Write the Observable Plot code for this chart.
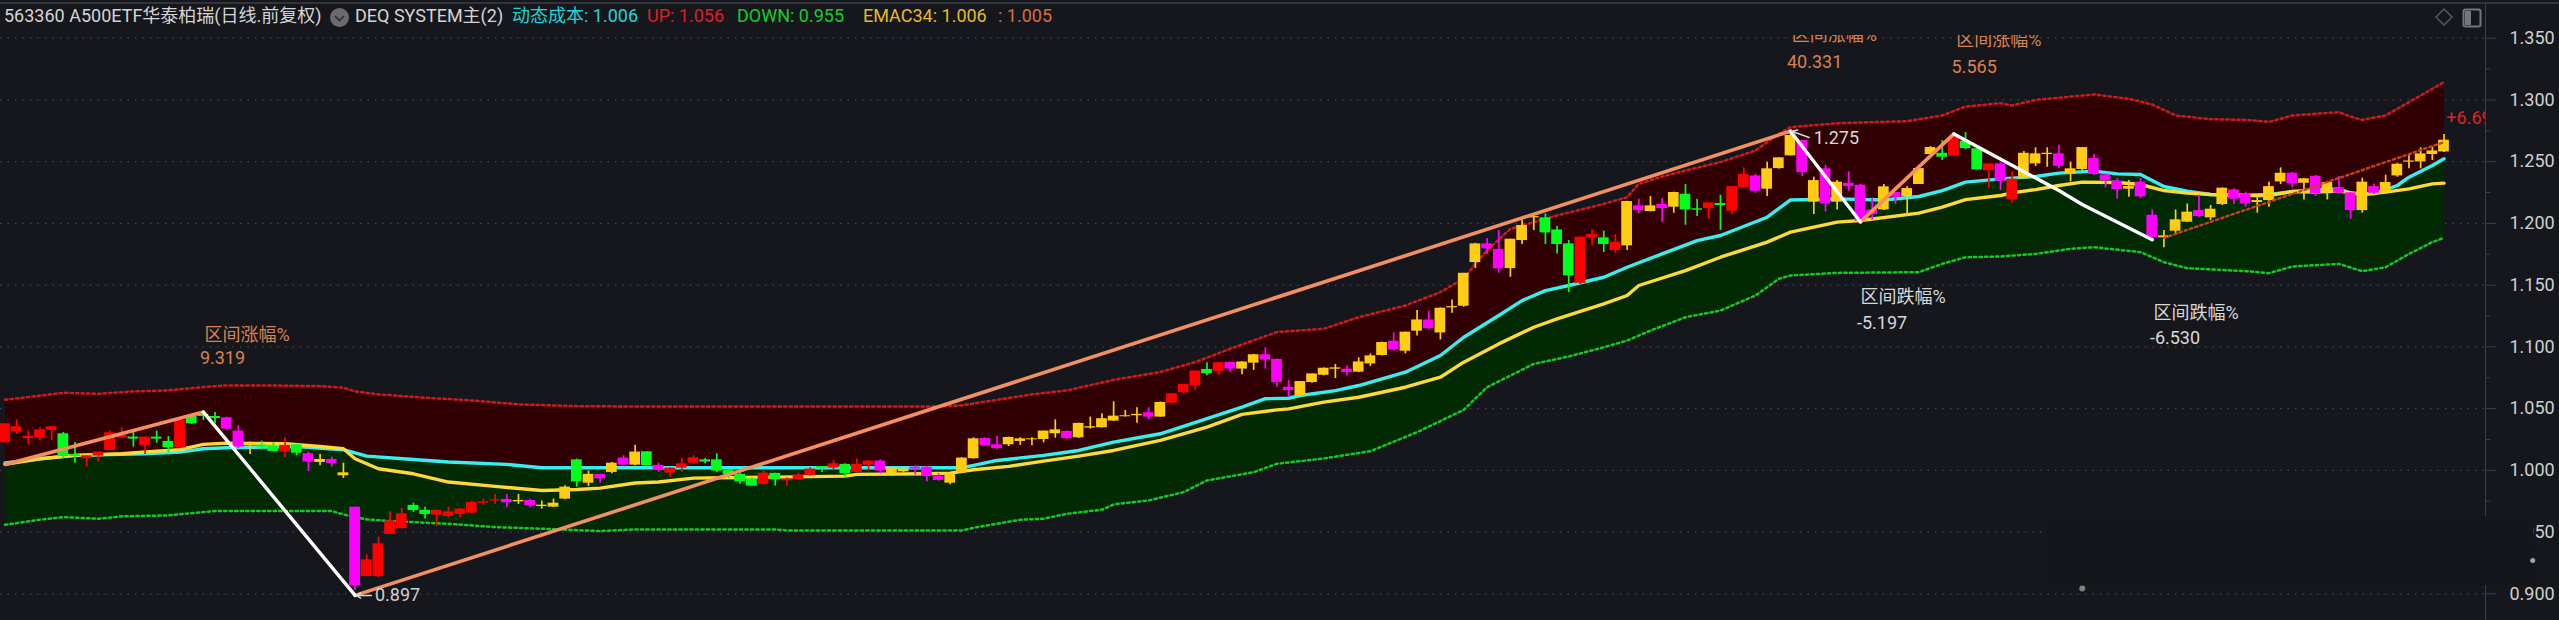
<!DOCTYPE html>
<html lang="zh"><head><meta charset="utf-8">
<script src="https://cdn.jsdelivr.net/npm/d3@7"></script>
<script src="https://cdn.jsdelivr.net/npm/@observablehq/plot@0.6"></script>
<style>
html,body{margin:0;padding:0;background:#16171d;width:2559px;height:620px;overflow:hidden}
#hdr{position:absolute;left:0;top:0;z-index:2;height:0;width:2559px;font:18px/1 Roboto,"Noto Sans CJK SC",sans-serif;white-space:nowrap}
#hdr .line{position:absolute;left:0;right:0;top:2px;height:2px;background:#32343b}
#hdr .axis{position:absolute;left:2485px;top:3px;height:33px;width:1px;background:#3c3e45}
#hdr span{position:absolute;top:7px}
#hdr svg{position:absolute}
#chart svg{display:block}
</style></head><body>
<div id="hdr"><div class="line"></div><div class="axis"></div></div>
<div id="chart"></div>
<script>
const headerText=["563360 A500ETF华泰柏瑞(日线.前复权)","DEQ SYSTEM主(2)","动态成本: 1.006","UP: 1.056","DOWN: 0.955","EMAC34: 1.006",": 1.005"];
const headerColor=["#d4d4d4","#d4d4d4","#1fd6d6","#dd1f26","#12cf2a","#e5bb25","#d2703f"];
const headerLeft=[4,355,512,647,737,863,998];

const kinds=("RRRRRGGRRR RGRGGRGGGM MYGGRGMYMY MRRRRGGRRR RRRMYMYYYG YMYMYGMRRR GGGGGRGRRR GRGRRMYYMM MYYYMMYYYY YMYYYYYYMY RRRGRMYYMM MYYYYMYYYM YYMYYYYMMY YYGGGRRGRY MYMYGGRGRR MYYYMYMYMM MYMYYYGRGG RMRYYYMYYM MMYMMYYYMY YMMYYYMYMY MMYMYYYYYY").replace(/ /g,"").split("");
const highs=[1.0377,1.0409,1.0318,1.0345,1.0353,1.0307,1.0226,1.0118,1.0150,1.0318,1.0345,1.0307,1.0269,1.0318,1.0274,1.0404,1.0442,1.0477,1.0469,1.0431,1.0361,1.0229,1.0237,1.0226,1.0264,1.0210,1.0148,1.0129,1.0107,1.0058,.9702,.9316,.9459,.9664,.9691,.9734,.9702,.9680,.9702,.9689,.9751,.9770,.9805,.9805,.9805,.9767,.9751,.9767,.9875,1.0091,.9994,.9967,1.0064,1.0118,1.0204,
1.0150,1.0058,1.0021,1.0094,1.0118,1.0096,1.0134,1.0004,.9977,.9937,.9994,.9977,.9937,.9977,1.0021,1.0031,1.0080,1.0053,1.0091,1.0080,1.0085,1.0021,1.0021,1.0037,1.0031,.9972,.9977,1.0102,1.0264,1.0264,1.0274,1.0269,1.0264,1.0264,1.0318,1.0409,1.0318,1.0382,1.0431,1.0458,1.0555,1.0485,1.0507,1.0507,1.0553,1.0620,1.0696,1.0804,1.0871,1.0874,1.0877,1.0882,1.0939,1.0993,1.0904,
1.0727,1.0719,1.0781,1.0830,1.0857,1.0846,1.0911,1.0943,1.1038,1.1113,1.1119,1.1294,1.1289,1.1316,1.1380,1.1596,1.1839,1.1877,1.1942,1.1872,1.2028,1.2077,1.2077,1.1974,1.1861,1.1893,1.1947,1.1937,1.1910,1.2180,1.2196,1.2217,1.2199,1.2253,1.2315,1.2196,1.2166,1.2228,1.2298,1.2450,1.2396,1.2496,1.2531,1.2747,1.2676,1.2374,1.2471,1.2347,1.2417,1.2315,1.2207,1.2315,1.2250,1.2298,1.2455,
1.2622,1.2671,1.2703,1.2736,1.2617,1.2482,1.2496,1.2415,1.2582,1.2612,1.2612,1.2633,1.2498,1.2614,1.2558,1.2401,1.2363,1.2347,1.2363,1.2109,1.1942,1.2109,1.2158,1.2228,1.2145,1.2288,1.2280,1.2253,1.2212,1.2334,1.2450,1.2412,1.2363,1.2388,1.2334,1.2379,1.2250,1.2366,1.2320,1.2390,1.2487,1.2563,1.2612,1.2622,1.2720];
const bodyTops=[1.0377,1.0353,1.0274,1.0328,1.0353,1.0296,1.0129,1.0118,1.0148,1.0304,1.0283,1.0269,1.0269,1.0269,1.0234,1.0404,1.0436,1.0453,1.0436,1.0426,1.0318,1.0220,1.0204,1.0193,1.0202,1.0207,1.0134,1.0088,1.0088,.9980,.9702,.9275,.9405,.9589,.9648,.9716,.9675,.9675,.9664,.9686,.9740,.9745,.9761,.9764,.9756,.9756,.9718,.9734,.9864,1.0085,.9967,.9967,1.0058,1.0099,1.0148,
1.0150,1.0040,1.0018,1.0053,1.0102,1.0085,1.0085,1.0002,.9967,.9932,.9977,.9975,.9929,.9964,1.0010,1.0031,1.0053,1.0048,1.0048,1.0075,1.0075,1.0021,1.0010,1.0026,1.0026,.9953,.9972,1.0099,1.0255,1.0258,1.0207,1.0266,1.0255,1.0255,1.0318,1.0328,1.0315,1.0380,1.0353,1.0418,1.0439,1.0442,1.0453,1.0466,1.0550,1.0620,1.0696,1.0804,1.0817,1.0871,1.0874,1.0877,1.0936,1.0936,1.0898,
1.0673,1.0719,1.0781,1.0827,1.0830,1.0819,1.0878,1.0927,1.1035,1.1046,1.1119,1.1218,1.1218,1.1313,1.1326,1.1596,1.1834,1.1834,1.1788,1.1872,1.1983,1.2055,1.2045,1.1947,1.1834,1.1888,1.1910,1.1883,1.1848,1.2177,1.2142,1.2142,1.2153,1.2250,1.2236,1.2118,1.2166,1.2161,1.2298,1.2396,1.2385,1.2442,1.2531,1.2712,1.2671,1.2347,1.2442,1.2334,1.2325,1.2309,1.2109,1.2296,1.2250,1.2282,1.2444,
1.2614,1.2568,1.2698,1.2666,1.2604,1.2482,1.2482,1.2358,1.2568,1.2563,1.2568,1.2563,1.2442,1.2614,1.2525,1.2393,1.2344,1.2298,1.2334,1.2066,1.1899,1.2029,1.2091,1.2104,1.2115,1.2285,1.2271,1.2234,1.2185,1.2298,1.2406,1.2406,1.2361,1.2382,1.2331,1.2288,1.2247,1.2334,1.2298,1.2331,1.2479,1.2506,1.2563,1.2587,1.2674];
const bodyBottoms=[1.0223,1.0310,1.0258,1.0261,1.0323,1.0112,1.0112,1.0094,1.0115,1.0161,1.0261,1.0253,1.0202,1.0253,1.0183,1.0183,1.0377,1.0436,1.0420,1.0334,1.0188,1.0199,1.0188,1.0153,1.0148,1.0139,1.0067,1.0064,1.0056,.9956,.9065,.9140,.9140,.9481,.9527,.9675,.9643,.9637,.9626,.9643,.9653,.9734,.9751,.9737,.9745,.9713,.9707,.9702,.9767,.9907,.9896,.9931,.9983,1.0042,1.0042,
1.0037,1.0004,.9977,1.0018,1.0058,1.0067,.9994,.9967,.9907,.9872,.9886,.9923,.9915,.9923,.9959,1.0015,1.0018,.9972,.9983,1.0042,.9994,.9972,.9988,1.0010,.9951,.9918,.9896,.9983,1.0094,1.0199,1.0177,1.0207,1.0234,1.0247,1.0250,1.0296,1.0258,1.0264,1.0342,1.0345,1.0399,1.0434,1.0442,1.0431,1.0431,1.0544,1.0628,1.0685,1.0782,1.0798,1.0820,1.0820,1.0868,1.0893,1.0712,
1.0646,1.0606,1.0711,1.0770,1.0819,1.0792,1.0795,1.0862,1.0930,1.0975,1.0965,1.1127,1.1148,1.1113,1.1316,1.1329,1.1683,1.1794,1.1632,1.1634,1.1861,1.2045,1.1923,1.1829,1.1575,1.1515,1.1880,1.1829,1.1780,1.1818,1.2104,1.2096,1.2120,1.2131,1.2109,1.2107,1.2120,1.2145,1.2099,1.2288,1.2261,1.2277,1.2444,1.2547,1.2412,1.2172,1.2158,1.2172,1.2298,1.2018,1.2072,1.2109,1.2212,1.2217,1.2315,
1.2558,1.2536,1.2544,1.2606,1.2433,1.2428,1.2342,1.2190,1.2361,1.2482,1.2558,1.2463,1.2401,1.2436,1.2396,1.2347,1.2274,1.2277,1.2215,1.1883,1.1883,1.1937,1.2010,1.2055,1.2045,1.2153,1.2196,1.2158,1.2169,1.2185,1.2336,1.2320,1.2325,1.2239,1.2250,1.2244,1.2104,1.2104,1.2244,1.2250,1.2385,1.2496,1.2498,1.2558,1.2579];
const lows=[1.0223,1.0291,1.0210,1.0237,1.0242,1.0094,1.0058,1.0026,1.0067,1.0161,1.0261,1.0188,1.0129,1.0220,1.0139,1.0183,1.0372,1.0404,1.0377,1.0329,1.0175,1.0129,1.0166,1.0150,1.0102,1.0118,.9991,1.0037,1.0026,.9934,.9027,.9140,.9130,.9481,.9527,.9659,.9605,.9545,.9616,.9616,.9648,.9716,.9724,.9697,.9724,.9697,.9686,.9699,.9761,.9864,.9869,.9896,.9972,1.0037,1.0037,
1.0037,.9986,.9945,.9983,1.0048,1.0053,.9983,.9931,.9886,.9872,.9878,.9872,.9872,.9918,.9951,.9983,.9994,.9937,.9980,.9994,.9972,.9967,.9983,.9961,.9907,.9913,.9883,.9977,1.0091,1.0196,1.0166,1.0193,1.0202,1.0199,1.0223,1.0261,1.0247,1.0258,1.0334,1.0342,1.0396,1.0431,1.0382,1.0412,1.0431,1.0539,1.0620,1.0647,1.0766,1.0769,1.0793,1.0774,1.0809,1.0820,1.0674,
1.0592,1.0597,1.0705,1.0765,1.0743,1.0765,1.0792,1.0840,1.0927,1.0965,1.0943,1.1089,1.1137,1.1056,1.1272,1.1321,1.1634,1.1748,1.1596,1.1564,1.1829,1.1942,1.1829,1.1753,1.1440,1.1505,1.1818,1.1764,1.1758,1.1780,1.2077,1.2093,1.2010,1.2082,1.1985,1.2055,1.2034,1.1942,1.2072,1.2288,1.2244,1.2217,1.2439,1.2547,1.2379,1.2072,1.2093,1.2109,1.2261,1.2018,1.2028,1.2104,1.2153,1.2061,1.2315,
1.2550,1.2509,1.2541,1.2595,1.2433,1.2280,1.2266,1.2163,1.2361,1.2460,1.2455,1.2442,1.2336,1.2428,1.2388,1.2288,1.2196,1.2212,1.2201,1.1856,1.1802,1.1915,1.2007,1.2045,1.2023,1.2145,1.2153,1.2131,1.2083,1.2131,1.2315,1.2288,1.2190,1.2217,1.2190,1.2239,1.2034,1.2083,1.2234,1.2239,1.2374,1.2442,1.2442,1.2509,1.2574];

const upperIdx=[0,2,5,8,11,14,17,19,22,27,29,30,32,36,40,44,49,54,80,82,85,88,91,95,99,102,105,109,113,116,120,123,125,126,127,129,131,133,137,139,140,142,144,147,150,152,153,157,163,166,168,171,172,174,177,179,182,184,186,189,192,194,196,200,201,202,204,206,208,209];
const upperVal=[1.0571,1.0593,1.0628,1.0620,1.0639,1.0647,1.0674,1.0688,1.0688,1.0682,1.0669,1.0639,1.0615,1.0588,1.0566,1.0534,1.0520,1.0517,1.0517,1.0526,1.0571,1.0615,1.0647,1.0733,1.0796,1.0877,1.0985,1.1120,1.1146,1.1240,1.1335,1.1443,1.1551,1.1672,1.1780,1.1956,1.2010,1.2064,1.2158,1.2212,1.2320,1.2379,1.2428,1.2496,1.2590,1.2725,1.2779,1.2811,1.2828,1.2874,1.2946,1.2973,1.2955,1.3000,1.3027,1.3044,1.3009,1.2963,1.2874,1.2844,1.2838,1.2822,1.2874,1.2901,1.2865,1.2838,1.2874,1.2982,1.3090,1.3144];
const lowerIdx=[0,3,5,8,10,14,17,18,28,29,31,33,38,42,46,51,54,66,67,82,83,85,87,89,91,94,95,98,101,103,107,109,113,117,121,125,127,131,134,137,139,141,144,147,150,152,153,157,164,166,168,171,174,177,179,183,185,187,192,194,196,200,202,204,206,208,209];
const lowerVal=[.9559,.9600,.9621,.9608,.9627,.9635,.9662,.9670,.9670,.9643,.9602,.9589,.9567,.9540,.9527,.9508,.9521,.9521,.9513,.9513,.9535,.9567,.9600,.9608,.9648,.9681,.9724,.9756,.9824,.9918,.9985,1.0053,1.0096,1.0155,1.0309,1.0490,1.0673,1.0862,1.0922,1.0997,1.1051,1.1132,1.1240,1.1294,1.1416,1.1551,1.1578,1.1599,1.1605,1.1672,1.1726,1.1732,1.1753,1.1794,1.1807,1.1767,1.1686,1.1637,1.1613,1.1597,1.1651,1.1672,1.1613,1.1645,1.1753,1.1848,1.1883];
const costIdx=[0,3,6,10,12,15,17,19,25,29,31,35,38,43,46,54,82,83,85,89,92,95,99,103,106,108,110,111,114,116,120,123,125,128,130,132,134,137,139,142,145,147,151,153,157,161,164,166,168,171,174,176,179,181,183,184,185,187,189,192,194,196,198,200,201,203,205,206,208,209];
const costVal=[1.0059,1.0094,1.0121,1.0129,1.0134,1.0148,1.0175,1.0183,1.0193,1.0167,1.0115,1.0088,1.0067,1.0048,1.0021,1.0021,1.0021,1.0040,1.0080,1.0121,1.0161,1.0229,1.0296,1.0418,1.0512,1.0580,1.0584,1.0606,1.0646,1.0687,1.0795,1.0930,1.1078,1.1254,1.1375,1.1456,1.1497,1.1564,1.1645,1.1753,1.1861,1.1902,1.2050,1.2190,1.2199,1.2190,1.2218,1.2266,1.2334,1.2361,1.2380,1.2407,1.2423,1.2401,1.2396,1.2347,1.2299,1.2261,1.2234,1.2226,1.2234,1.2258,1.2272,1.2280,1.2245,1.2239,1.2307,1.2374,1.2469,1.2523];
const emaIdx=[0,3,6,10,13,15,17,19,24,27,29,30,32,35,38,42,46,49,51,54,56,59,66,72,73,79,81,83,86,89,92,95,99,103,106,109,110,113,116,120,123,125,128,131,133,137,139,140,144,147,151,153,157,159,164,166,168,171,172,174,176,178,181,183,185,187,189,192,194,196,198,200,202,204,206,208,209];
const emaVal=[1.0048,1.0094,1.0121,1.0134,1.0156,1.0167,1.0210,1.0220,1.0215,1.0193,1.0175,1.0094,1.0013,.9972,.9905,.9870,.9837,.9845,.9856,.9897,.9905,.9937,.9945,.9953,.9967,.9972,.9977,1.0005,1.0032,1.0075,1.0115,1.0161,1.0242,1.0350,1.0453,1.0490,1.0498,1.0552,1.0592,1.0673,1.0754,1.0876,1.1024,1.1159,1.1227,1.1348,1.1416,1.1497,1.1618,1.1726,1.1848,1.1929,1.2010,1.2023,1.2083,1.2131,1.2193,1.2226,1.2247,1.2274,1.2307,1.2334,1.2331,1.2315,1.2266,1.2245,1.2234,1.2226,1.2226,1.2258,1.2253,1.2261,1.2234,1.2253,1.2280,1.2320,1.2326];

const riseSeg=[1,1,2,2,3,3];
const riseIdx=[0,17,30,153,159,167];
const riseVal=[1.0048,1.0472,.8987,1.2747,1.2012,1.2725];
const fallSeg=[1,1,2,2,3,3,3,3];
const fallIdx=[17,30,153,159,167,176,178,184];
const fallVal=[1.0472,.8987,1.2747,1.2012,1.2725,1.2266,1.2153,1.1867];
const trendIdx=[185,209];
const trendVal=[1.1883,1.2658];

const noteText=["区间涨幅%","9.319","区间涨幅%","40.331","区间涨幅%","5.565","区间跌幅%","-5.197","区间跌幅%","-6.530","0.897","1.275"];
const noteIdx=[17.1,16.7,153.1,152.7,167.2,166.8,159,158.7,184.1,183.8,31.7,155];
const noteVal=[1.1092,1.0906,1.3522,1.3303,1.3481,1.3263,1.1400,1.1190,1.1270,1.1068,.8986,1.2688];
const noteColor=["#d9824f","#d9824f","#d9824f","#d9824f","#d9824f","#d9824f","#d8d8d8","#d8d8d8","#d8d8d8","#d8d8d8","#d0d0d0","#d8d8d8"];
const changeText=["+6.69%"];
const majorTicks=[1.35,1.3,1.25,1.2,1.15,1.1,1.05,1,.95,.9];
const minorTicks=[1.325,1.275,1.225,1.175,1.125,1.075,1.025,.975,.925];
const kindColor={R:"#ff0000",G:"#00ff1e",M:"#ff00ff",Y:"#ffcc14"};

const FONT='Roboto,"Noto Sans CJK SC",sans-serif';
const hdr=document.getElementById("hdr");
headerText.forEach((t,i)=>{const s=document.createElement("span");s.textContent=t;s.style.left=headerLeft[i]+"px";s.style.color=headerColor[i];hdr.appendChild(s);});
hdr.insertAdjacentHTML("beforeend",`<svg style="left:329px;top:7px" width="21" height="21"><circle cx="10.5" cy="10.5" r="9.5" fill="#6b6b6e"/><path d="M6 9l4.5 4.5L15 9" fill="none" stroke="#2a2a2e" stroke-width="1.6"/></svg>
<svg style="left:2434px;top:7px" width="20" height="20"><path d="M10 2l8 8-8 8-8-8z" fill="none" stroke="#55575e" stroke-width="1.5"/></svg>
<svg style="left:2462px;top:8px" width="20" height="20"><rect x="1.5" y="1.5" width="17" height="17" rx="2" fill="none" stroke="#75777e" stroke-width="2"/><rect x="3" y="3" width="6" height="14" fill="#75777e"/></svg>`);

const candles=kinds.map((k,i)=>({i,color:kindColor[k],high:highs[i],top:bodyTops[i],bottom:bodyBottoms[i],low:lows[i]}));
const pts=(xs,ys,zs)=>xs.map((x,j)=>({x,y:ys[j],z:zs?zs[j]:0}));
const upper=pts(upperIdx,upperVal),lower=pts(lowerIdx,lowerVal),cost=pts(costIdx,costVal),ema=pts(emaIdx,emaVal);
const notes=noteText.map((t,j)=>({t,x:noteIdx[j],y:noteVal[j],c:noteColor[j]}));
const line=(d,o)=>Plot.line(d,{x:"x",y:"y",z:"z",curve:"linear",...o});

const chart=Plot.plot({
  width:2559,height:620,marginTop:35,marginBottom:0,marginLeft:0,marginRight:74,
  style:{background:"#16171d",fontFamily:FONT,display:"block"},
  x:{type:"linear",domain:[0,209],range:[4.5,2443.5],axis:null},
  y:{type:"linear",domain:[1.35,.9],range:[37.7,593.3],axis:null},
  color:{type:"identity"},
  marks:[
    Plot.ruleY(majorTicks,{stroke:"#4a4c53",strokeWidth:1.3,strokeDasharray:"1.3 6.2"}),
    line([...upper,...cost.slice().reverse()],{fill:"#300003",stroke:"none"}),
    line([...cost,...lower.slice().reverse()],{fill:"#012a02",stroke:"none"}),
    line(upper,{stroke:"#d01a1f",strokeWidth:2.5,strokeDasharray:"2.4 3.1"}),
    line(lower,{stroke:"#1ac52a",strokeWidth:2.5,strokeDasharray:"2.4 3.1"}),
    line(cost,{stroke:"#35f0f0",strokeWidth:3.4}),
    line(ema,{stroke:"#ffd83a",strokeWidth:3.4}),
    Plot.ruleX(candles,{x:"i",y1:"low",y2:"high",stroke:"color",strokeWidth:1.7}),
    Plot.rect(candles,{x1:d=>d.i-.46,x2:d=>d.i+.46,y1:"bottom",y2:"top",fill:"color"}),
    line(pts(trendIdx,trendVal),{stroke:"#c8401f",strokeWidth:2.4,strokeDasharray:"2.4 3.1"}),
    line(pts(riseIdx,riseVal,riseSeg),{stroke:"#f4905f",strokeWidth:3.6}),
    line(pts(fallIdx,fallVal,fallSeg),{stroke:"#ffffff",strokeWidth:3.4}),
    Plot.arrow([{x1:31.4,y1:.8986,x2:30.1,y2:.8986},{x1:154.6,y1:1.2696,x2:153.1,y2:1.2747}],{x1:"x1",y1:"y1",x2:"x2",y2:"y2",stroke:"#d8d8d8",strokeWidth:1.5,headLength:7,bend:0}),
    Plot.text(notes,{x:"x",y:"y",text:"t",fill:"c",fontSize:18,textAnchor:"start",clip:true}),
    Plot.text(changeText,{x:[209.2],y:[1.285],text:d=>d,fill:"#e01f28",fontSize:18,textAnchor:"start",clip:true}),
    Plot.frame({anchor:"right",stroke:"#3c3e45"}),
    Plot.axisY(majorTicks,{anchor:"right",tickSize:10,tickPadding:14,tickFormat:d3.format(".3f"),fontSize:18,fill:"#d0d0d0",stroke:"#3c3e45",label:null}),
    Plot.ruleY(minorTicks,{x1:212.6,x2:213,stroke:"#3c3e45"}),
    Plot.rect([0],{x1:[175],x2:[216.7],y1:[.9068],y2:[.9626],fill:"#15161b"}),
    Plot.dot([0],{x:[178],y:[.9043],r:3,fill:"#d8d8d8",fillOpacity:.55,stroke:"none"}),
    Plot.dot([0],{x:[216.6],y:[.9270],r:2.5,fill:"#e0e0e0",fillOpacity:.7,stroke:"none"})
  ]
});
document.getElementById("chart").appendChild(chart);
</script></body></html>
